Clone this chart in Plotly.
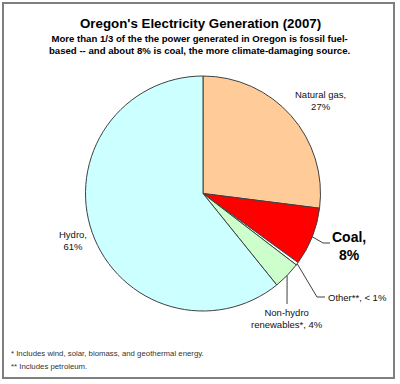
import math
import plotly.graph_objects as go

W, H = 400, 384

# Data
sources = ["Natural gas", "Coal", "Other", "Non-hydro renewables", "Hydro"]
shares = [27.0, 8.0, 0.4, 3.8, 60.8]
label_lines = ["Natural gas,<br>27%", "<b>Coal,<br>8%</b>", "Other**, < 1%",
               "Non-hydro<br>renewables*, 4%", "Hydro,<br>61%"]
colors = ["#FFCC99", "#FF0000", "#FFFFFF", "#CCFFCC", "#CCFFFF"]

title = "Oregon's Electricity Generation (2007)"
subtitle = ["More than 1/3 of the the power generated in Oregon is fossil fuel-",
            "based -- and about 8% is coal, the more climate-damaging source."]
footnotes = ["* Includes wind, solar, biomass, and geothermal energy.",
             "** Includes petroleum."]

FONT = "Arial, Liberation Sans, sans-serif"

def px(x):
    return x / W

def py(y):
    return 1 - y / H

# pie geometry (pixels)
cx, cy, r = 203, 193.5, 117.5

fig = go.Figure(go.Pie(
    labels=sources, values=shares, sort=False, direction="clockwise", rotation=0,
    marker=dict(colors=colors, line=dict(color="#404040", width=1)),
    textinfo="none", hoverinfo="label+percent", showlegend=False,
    domain=dict(x=[px(cx - r), px(cx + r)], y=[py(cy + r), py(cy - r)]),
))

# mid-angles of slices from data
tot = sum(shares)
mids = []
acc = 0
for v in shares:
    mids.append((acc + v / 2) / tot * 2 * math.pi)
    acc += v

def edge(i):
    a = mids[i]
    return cx + r * math.sin(a), cy - r * math.cos(a)

shapes = []
# frame
shapes.append(dict(type="rect", xref="paper", yref="paper",
                   x0=px(3), x1=px(394), y0=py(378), y1=py(3),
                   line=dict(color="#7f7f7f", width=2)))

def leader(i, pts):
    sx, sy = edge(i)
    path = f"M {px(sx)} {py(sy)}"
    for (x, y) in pts:
        path += f" L {px(x)} {py(y)}"
    shapes.append(dict(type="path", xref="paper", yref="paper", path=path,
                       line=dict(color="#404040", width=1)))

leader(1, [(323, 243), (330, 243)])
leader(2, [(317, 297), (325, 297)])
leader(3, [(287, 304)])

annotations = []

def txt(text, x, y, size, xanchor="center", yanchor="middle", color="#111111", align="center"):
    annotations.append(dict(text=text, x=px(x), y=py(y), xref="paper", yref="paper",
                            showarrow=False, xanchor=xanchor, yanchor=yanchor, align=align,
                            font=dict(family=FONT, size=size, color=color)))

txt("<b>" + title + "</b>", 200, 23, 13.3, color="#000000")
txt("<b>" + subtitle[0] + "<br>" + subtitle[1] + "</b>", 199, 44, 9.6, color="#000000")

txt(label_lines[0], 320, 100, 9.5)
txt(label_lines[1], 349, 246, 14, color="#000000")
txt(label_lines[2], 326, 297, 9.5, xanchor="left")
txt(label_lines[3], 287, 318, 9.5)
txt(label_lines[4], 73, 240, 9.5)

txt(footnotes[0], 9, 353, 7.8, xanchor="left", color="#333333")
txt(footnotes[1], 9, 366, 7.8, xanchor="left", color="#333333")

fig.update_layout(width=W, height=H, margin=dict(l=0, r=0, t=0, b=0),
                  paper_bgcolor="white", plot_bgcolor="white",
                  shapes=shapes, annotations=annotations)

fig.write_html("out.html", config={"displayModeBar": False},
               post_script="document.body.style.margin='0';document.body.style.padding='0';document.body.style.overflow='hidden';")
